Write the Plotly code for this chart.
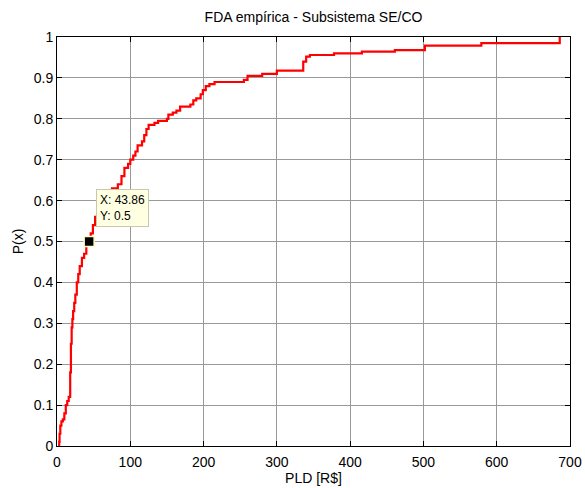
import plotly.graph_objects as go

# Empirical CDF step points: at PLD value x the CDF becomes p
pld = [2.5, 3, 3.5, 4.5, 6, 8, 10, 12, 14, 16, 18, 19, 20, 21, 22, 23.5, 25, 27, 29,
       31, 34, 37, 40, 43.86, 46, 49, 52, 56, 62, 68, 75, 83, 88, 92, 97, 100, 104,
       107, 110, 116, 119, 122, 125, 133, 138, 150, 152, 158, 163, 168, 182, 186,
       190, 196, 199, 203, 208, 215, 255, 260, 280, 300, 336, 340, 345, 378,
       416, 461, 502, 579, 686]
prob = [0.0, 0.01, 0.03, 0.05, 0.06, 0.065, 0.08, 0.10, 0.11, 0.12, 0.18, 0.25, 0.29,
        0.31, 0.33, 0.35, 0.37, 0.40, 0.42, 0.44, 0.46, 0.47, 0.49, 0.50, 0.52, 0.54,
        0.56, 0.58, 0.60, 0.615, 0.63, 0.64, 0.66, 0.68, 0.69, 0.70, 0.71, 0.72,
        0.735, 0.745, 0.76, 0.775, 0.785, 0.79, 0.795, 0.80, 0.81, 0.815, 0.82, 0.83,
        0.835, 0.845, 0.85, 0.86, 0.87, 0.88, 0.885, 0.89, 0.895, 0.905, 0.91, 0.918,
        0.94, 0.952, 0.956, 0.96, 0.964, 0.968, 0.979, 0.985, 1.0]

tip_x = [43.86]
tip_y = [0.5]

x_ticks = [0, 100, 200, 300, 400, 500, 600, 700]
y_ticks = [0, 0.1, 0.2, 0.3, 0.4, 0.5, 0.6, 0.7, 0.8, 0.9, 1]

FONT = "Liberation Sans, Arial"

fig = go.Figure()
fig.add_trace(go.Scatter(x=pld, y=prob, mode="lines", line_shape="hv",
                         line=dict(color="#ff0000", width=2.2), hoverinfo="skip"))
fig.add_trace(go.Scatter(x=tip_x, y=tip_y, mode="markers",
                         marker=dict(symbol="square", size=10, color="black",
                                     line=dict(color="#ffffc0", width=1.5))))

fig.add_annotation(x=52.8, y=0.628, xref="x", yref="y", xanchor="left", yanchor="top",
                   text="X: 43.86<br>Y: 0.5", showarrow=False, align="left",
                   bgcolor="#ffffe1", bordercolor="#c8c8b0", borderwidth=1, borderpad=3,
                   font=dict(family=FONT, size=12, color="black"))

axis_common = dict(showline=True, linecolor="black", linewidth=1, mirror="allticks",
                   ticks="inside", ticklen=5, tickcolor="black", showgrid=True,
                   gridcolor="#999999", gridwidth=1, zeroline=False, automargin=False,
                   tickfont=dict(family=FONT, size=14, color="black"))

fig.update_xaxes(range=[0, 700], tickvals=x_ticks, ticktext=[str(v) for v in x_ticks],
                 ticklabelstandoff=3,
                 title=dict(text="PLD [R$]", standoff=4,
                            font=dict(family=FONT, size=14, color="black")),
                 **axis_common)
fig.update_yaxes(range=[0, 1], tickvals=y_ticks, ticktext=[f"{v:g}" for v in y_ticks],
                 title=dict(text="P(x)", standoff=6,
                            font=dict(family=FONT, size=14, color="black")),
                 **axis_common)

fig.update_layout(
    width=585, height=488,
    margin=dict(l=57, r=15, t=37, b=42),
    paper_bgcolor="white", plot_bgcolor="white",
    showlegend=False,
    title=dict(text="FDA empírica - Subsistema SE/CO", x=(57 + 570) / 2 / 585, xanchor="center",
               y=1 - 17 / 488, yanchor="middle", yref="container",
               font=dict(family=FONT, size=14, color="black")),
)

fig.write_html("out.html")
